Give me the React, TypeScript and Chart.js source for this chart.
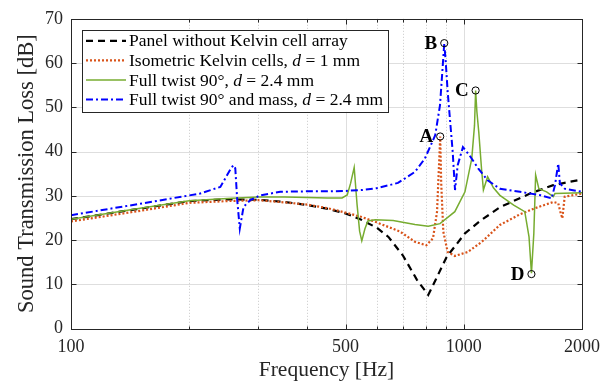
import React, { useEffect, useRef } from "react";
import { Chart, registerables } from "chart.js";
Chart.register(...registerables);

const FONT = '"Liberation Serif", "Times New Roman", serif';
const INK = "#262626";

// ---------- data ----------
const panelFreq = [100, 150, 200, 250, 300, 350, 400, 448, 500, 545, 600, 643, 700, 760, 812, 850, 905, 950, 1007, 1100, 1236, 1474, 1690, 2000];
const panelTL = [24.7, 27.1, 28.8, 29.2, 29.1, 28.6, 27.9, 27.1, 26.0, 24.7, 22.8, 20.7, 16.5, 11.0, 7.6, 11.2, 16.2, 18.6, 21.5, 24.3, 27.4, 30.5, 32.4, 33.7];

const isoFreq = [100, 150, 200, 250, 300, 350, 400, 450, 500, 550, 600, 688, 751, 803, 835, 855, 866, 871, 876, 887, 910, 949, 1024, 1112, 1236, 1390, 1508, 1690, 1740, 1760, 1782, 1807, 2000];
const isoTL = [24.2, 26.6, 28.4, 28.8, 29.0, 28.5, 28.0, 27.2, 26.2, 25.2, 24.0, 21.9, 19.6, 18.8, 20.4, 26.4, 38.0, 43.4, 33.0, 21.9, 17.3, 16.4, 17.3, 19.6, 23.4, 25.8, 27.1, 28.6, 28.3, 26.5, 24.9, 29.8, 30.5];

const twistFreq = [100, 150, 200, 250, 300, 350, 400, 450, 490, 505, 515, 526, 535, 543, 550, 560, 570, 595, 661, 751, 812, 870, 949, 1007, 1048, 1065, 1072, 1080, 1092, 1110, 1122, 1150, 1190, 1236, 1340, 1430, 1466, 1487, 1508, 1524, 1553, 1625, 1690, 1707, 2000];
const twistTL = [24.7, 27.2, 28.9, 29.4, 29.7, 29.7, 29.6, 29.5, 29.5, 30.2, 32.8, 36.4, 28.0, 22.0, 19.8, 22.5, 24.3, 24.6, 24.4, 23.5, 23.1, 23.7, 26.4, 30.9, 38.4, 45.9, 53.8, 49.0, 44.4, 36.0, 31.3, 34.3, 31.8, 30.1, 27.9, 26.4, 20.7, 12.5, 21.5, 34.7, 31.6, 30.9, 29.8, 30.5, 30.7];

const massFreq = [100, 150, 213, 240, 254, 259, 262, 265, 269, 275, 286, 303, 341, 400, 450, 500, 550, 600, 680, 751, 796, 846, 870, 885, 892, 900, 910, 937, 950, 965, 995, 1033, 1088, 1150, 1236, 1390, 1570, 1674, 1707, 1740, 1757, 1807, 2000];
const massTL = [25.6, 28.2, 30.5, 32.0, 35.8, 36.9, 36.2, 29.0, 22.6, 27.5, 29.0, 30.1, 30.9, 31.0, 31.0, 31.1, 31.3, 31.7, 32.9, 35.4, 38.4, 43.7, 50.5, 60.0, 64.5, 60.0, 53.5, 40.0, 31.3, 36.9, 41.0, 39.2, 36.2, 33.5, 31.6, 30.9, 30.1, 29.4, 32.4, 37.3, 32.8, 31.6, 30.9];

const markerFreq = [871, 892, 1072, 1487];
const markerTL = [43.4, 64.5, 53.8, 12.3];
const markerLabels = ["A", "B", "C", "D"];

const xTicks = [100, 200, 300, 400, 500, 600, 700, 800, 900, 1000, 2000];
const xLabeled = [100, 500, 1000, 2000];
const xMajorGrid = [500, 1000];
const yTicks = [0, 10, 20, 30, 40, 50, 60, 70];

// legend text: [text, italic]
const legendTexts: [string, boolean][][] = [
  [["Panel without Kelvin cell array", false]],
  [["Isometric Kelvin cells, ", false], ["d", true], [" = 1 mm", false]],
  [["Full twist 90°, ", false], ["d", true], [" = 2.4 mm", false]],
  [["Full twist 90° and mass, ", false], ["d", true], [" = 2.4 mm", false]],
];

const styles = [
  { color: "#000000", width: 2.2, dash: [7, 5] },
  { color: "#D95319", width: 2.2, dash: [2, 2] },
  { color: "#77AC30", width: 1.5, dash: [] as number[] },
  { color: "#0000FF", width: 2, dash: [7, 3, 2, 3] },
];

const toPts = (xs: number[], ys: number[]) => xs.map((x, i) => ({ x, y: ys[i] }));

const gridPlugin = {
  id: "gridPlugin",
  beforeDatasetsDraw(chart: any) {
    const { ctx, chartArea: a, scales } = chart;
    const xs = scales.x, ys = scales.y;
    ctx.save();
    ctx.lineWidth = 1;
    ctx.strokeStyle = "#dedede";
    for (const v of yTicks) {
      if (v === 0 || v === 70) continue;
      const y = Math.round(ys.getPixelForValue(v)) + 0.5;
      ctx.beginPath(); ctx.moveTo(a.left, y); ctx.lineTo(a.right, y); ctx.stroke();
    }
    for (const v of xTicks) {
      if (v === 100 || v === 2000) continue;
      const x = Math.round(xs.getPixelForValue(v)) + 0.5;
      if (xMajorGrid.includes(v)) {
        ctx.setLineDash([]);
        ctx.strokeStyle = "#dedede";
      } else {
        ctx.setLineDash([1, 2]);
        ctx.strokeStyle = "#c8c8c8";
      }
      ctx.beginPath(); ctx.moveTo(x, a.top); ctx.lineTo(x, a.bottom); ctx.stroke();
    }
    ctx.restore();
  },
  afterDatasetsDraw(chart: any) {
    const { ctx, chartArea: a, scales } = chart;
    const xs = scales.x, ys = scales.y;
    ctx.save();
    ctx.strokeStyle = INK;
    ctx.lineWidth = 1;
    ctx.setLineDash([]);
    const L = Math.round(a.left) + 0.5, R = Math.round(a.right) + 0.5;
    const T = Math.round(a.top) + 0.5, B = Math.round(a.bottom) + 0.5;
    ctx.strokeRect(L, T, R - L, B - T);
    ctx.beginPath();
    for (const v of yTicks) {
      const y = Math.round(ys.getPixelForValue(v)) + 0.5;
      ctx.moveTo(L, y); ctx.lineTo(L + 5, y);
      ctx.moveTo(R, y); ctx.lineTo(R - 5, y);
    }
    for (const v of xTicks) {
      const x = Math.round(xs.getPixelForValue(v)) + 0.5;
      const len = xLabeled.includes(v) ? 5 : 3;
      ctx.moveTo(x, B); ctx.lineTo(x, B - len);
      ctx.moveTo(x, T); ctx.lineTo(x, T + len);
    }
    ctx.stroke();

    // marker labels
    const meta = chart.getDatasetMeta(4);
    ctx.fillStyle = "#000";
    ctx.font = `bold 19px ${FONT}`;
    ctx.textAlign = "right";
    ctx.textBaseline = "middle";
    meta.data.forEach((p: any, i: number) => {
      ctx.fillText(markerLabels[i], p.x - 7, p.y + 1);
    });

    // legend
    const bx = a.left + 11, by = a.top + 11, bw = 306, bh = 82;
    ctx.fillStyle = "#fff";
    ctx.fillRect(bx, by, bw, bh);
    ctx.strokeStyle = INK;
    ctx.lineWidth = 1;
    ctx.strokeRect(Math.round(bx) + 0.5, Math.round(by) + 0.5, bw, bh);
    const rowH = 19.6;
    legendTexts.forEach((segs, i) => {
      const y = by + 11 + i * rowH;
      const s = styles[i];
      ctx.save();
      ctx.strokeStyle = s.color;
      ctx.lineWidth = s.width;
      ctx.setLineDash(s.dash);
      ctx.beginPath(); ctx.moveTo(bx + 4, y); ctx.lineTo(bx + 44, y); ctx.stroke();
      ctx.restore();
      let x = bx + 47;
      ctx.fillStyle = "#000";
      ctx.textAlign = "left";
      ctx.textBaseline = "middle";
      for (const [t, it] of segs) {
        ctx.font = `${it ? "italic " : ""}17.5px ${FONT}`;
        ctx.fillText(t, x, y + 1);
        x += ctx.measureText(t).width;
      }
    });
    ctx.restore();
  },
};

export default function App() {
  const ref = useRef<HTMLCanvasElement | null>(null);
  useEffect(() => {
    if (!ref.current) return;
    const series = [
      { label: "Panel without Kelvin cell array", xs: panelFreq, ys: panelTL },
      { label: "Isometric Kelvin cells, d = 1 mm", xs: isoFreq, ys: isoTL },
      { label: "Full twist 90°, d = 2.4 mm", xs: twistFreq, ys: twistTL },
      { label: "Full twist 90° and mass, d = 2.4 mm", xs: massFreq, ys: massTL },
    ];
    const datasets: any[] = series.map((s, i) => ({
      label: s.label,
      data: toPts(s.xs, s.ys),
      borderColor: styles[i].color,
      borderWidth: styles[i].width,
      borderDash: styles[i].dash,
      pointRadius: 0,
      tension: 0,
      fill: false,
      order: 4 - i,
    }));
    datasets.push({
      label: "markers",
      data: toPts(markerFreq, markerTL),
      showLine: false,
      pointRadius: 3.6,
      pointBorderColor: "#000",
      pointBackgroundColor: "rgba(0,0,0,0)",
      pointBorderWidth: 1,
      order: 0,
    });
    const chart = new Chart(ref.current, {
      type: "line",
      data: { datasets },
      plugins: [gridPlugin],
      options: {
        animation: false,
        responsive: false,
        devicePixelRatio: 1,
        layout: { padding: { top: 18, right: 29, left: 0, bottom: 0 } },
        plugins: { legend: { display: false }, tooltip: { enabled: false } },
        scales: {
          x: {
            type: "logarithmic",
            min: 100,
            max: 2000,
            afterBuildTicks: (s: any) => { s.ticks = xTicks.map((v) => ({ value: v })); },
            afterFit: (s: any) => { s.height = 52.5; },
            grid: { display: false, drawTicks: false },
            border: { display: false },
            ticks: {
              autoSkip: false,
              maxRotation: 0,
              padding: 8,
              color: INK,
              font: { family: FONT, size: 18 },
              callback: (v: any) => (xLabeled.includes(Number(v)) ? String(v) : ""),
            },
            title: {
              display: true,
              text: "Frequency [Hz]",
              color: INK,
              font: { family: FONT, size: 21.5, lineHeight: 1 },
              padding: { top: 0, bottom: 0 },
            },
          },
          y: {
            min: 0,
            max: 70,
            afterFit: (s: any) => { s.width = 71; },
            grid: { display: false, drawTicks: false },
            border: { display: false },
            ticks: {
              stepSize: 10,
              padding: 8,
              color: INK,
              font: { family: FONT, size: 18 },
            },
            title: {
              display: true,
              text: "Sound Transmission Loss [dB]",
              color: INK,
              font: { family: FONT, size: 22.5, lineHeight: 1 },
              padding: { top: 16, bottom: 0 },
            },
          },
        },
      } as any,
    });
    return () => chart.destroy();
  }, []);
  return (
    <div style={{ position: "absolute", left: 0, top: 0, width: 611, height: 381, background: "#fff" }}>
      <canvas ref={ref} width={611} height={381} style={{ display: "block" }} />
    </div>
  );
}
